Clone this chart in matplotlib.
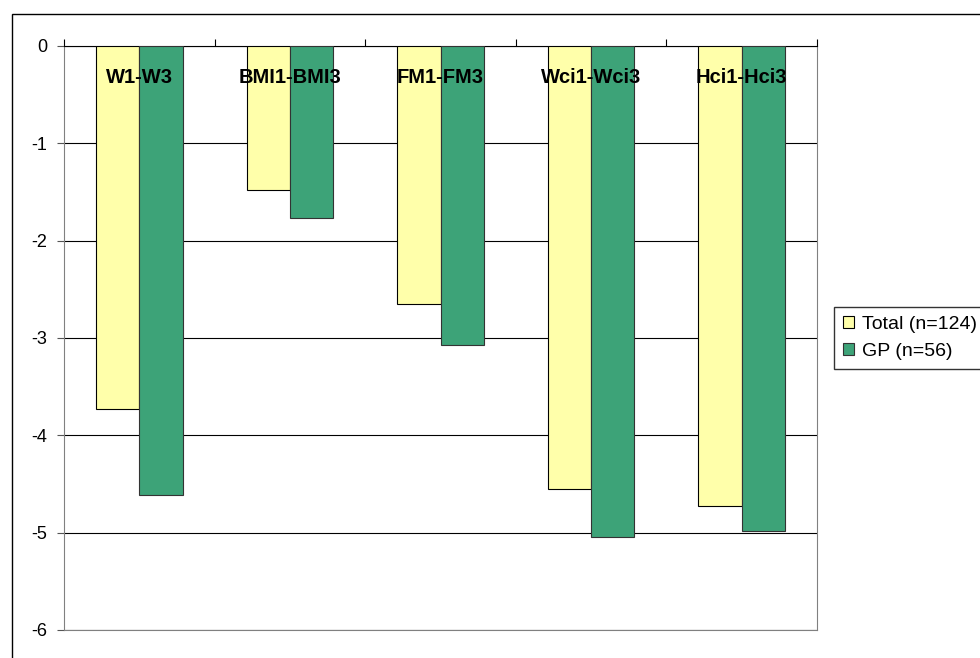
import numpy as np
import matplotlib.pyplot as plt
from matplotlib.patches import Rectangle

categories = ['W1-W3', 'BMI1-BMI3', 'FM1-FM3', 'Wci1-Wci3', 'Hci1-Hci3']
total = [-3.73, -1.48, -2.65, -4.55, -4.73]
gp = [-4.61, -1.77, -3.07, -5.04, -4.98]
series_names = ['Total (n=124)', 'GP (n=56)']

plt.rcParams['font.family'] = ['Liberation Sans', 'DejaVu Sans']
plt.rcParams['axes.unicode_minus'] = False
fig = plt.figure(figsize=(9.8, 6.58), dpi=100)

# outer chart border
fig.patches.append(Rectangle((12 / 980, -0.1), 1.2, 1 - 14 / 658 + 0.1,
                             transform=fig.transFigure, fill=False,
                             edgecolor='black', linewidth=1.0))

ax = fig.add_axes([64 / 980, 28 / 658, 753 / 980, 584 / 658])
x = np.arange(len(categories))
w = 0.287
ax.bar(x - w / 2, total, w, color='#FFFFAA', edgecolor='black', linewidth=0.8,
       label=series_names[0], zorder=3)
ax.bar(x + w / 2, gp, w, color='#3DA378', edgecolor='#333333', linewidth=0.8,
       label=series_names[1], zorder=3)

ax.set_xlim(-0.5, len(categories) - 0.5)
ax.set_ylim(-6, 0)
ax.set_yticks(range(-6, 1))
ax.yaxis.grid(True, color='black', linewidth=0.8, zorder=1)
ax.tick_params(axis='y', labelsize=13, length=5, color='#555555', pad=7)

ax.xaxis.tick_top()
ax.set_xticks(np.arange(-0.5, len(categories), 1.0))
ax.set_xticklabels([])
ax.tick_params(axis='x', length=5, color='black')

for s in ['left', 'bottom', 'right']:
    ax.spines[s].set_color('#808080')
ax.spines['top'].set_color('black')

for i, c in enumerate(categories):
    ax.text(i, -0.32, c, ha='center', va='center', fontsize=14.5,
            fontweight='bold', zorder=5)

leg = ax.legend(loc='center left', bbox_to_anchor=((834 - 64) / 753, 0.5),
                frameon=True, fancybox=False, edgecolor='black', fontsize=14,
                handlelength=0.6, handleheight=0.6, handletextpad=0.4,
                borderpad=0.45, labelspacing=0.5, borderaxespad=0)
leg.get_frame().set_linewidth(1.0)

fig.savefig('out.png', dpi=100)
